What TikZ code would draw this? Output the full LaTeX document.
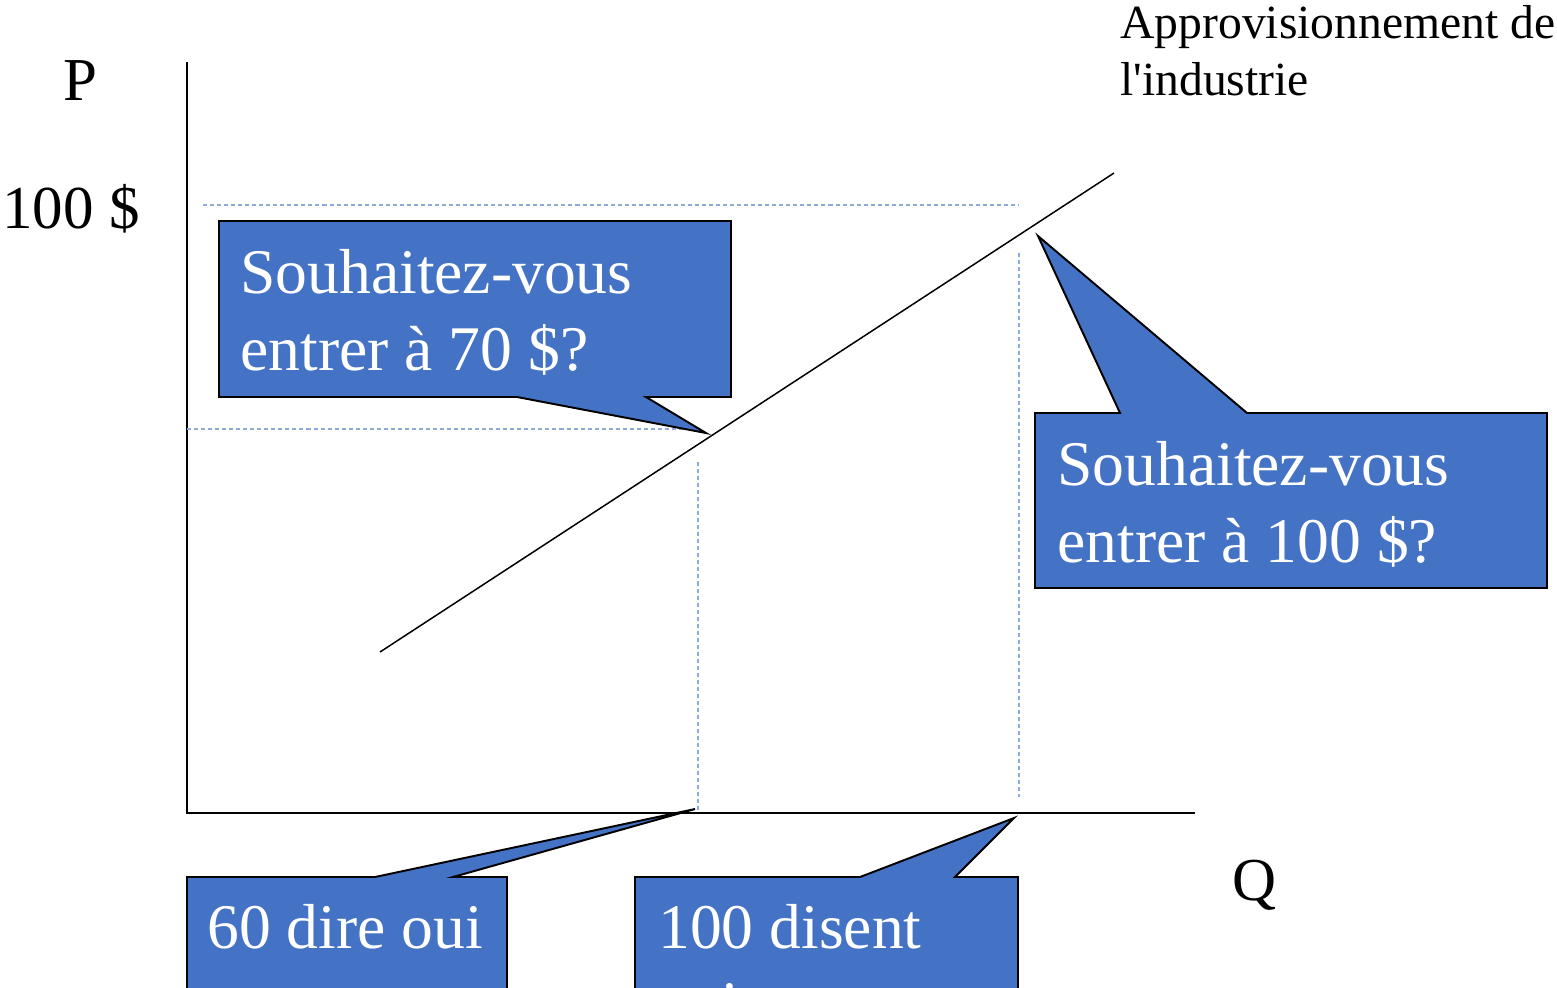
\documentclass[tikz,border=0pt]{standalone}
\usepackage{fontspec}
\setmainfont{Liberation Serif}
\definecolor{cfill}{HTML}{4472C4}
\definecolor{guide}{HTML}{8FAADC}
\tikzset{
  callout/.style={fill=cfill, draw=black, line width=1.1pt, line join=miter},
  guideline/.style={draw=guide, line width=0.8pt, dash pattern=on 2.3pt off 1.7pt},
  axis/.style={draw=black, line width=1.1pt},
  ctext/.style={text=white, inner sep=0pt, anchor=base west, font=\fontsize{36.2}{43.8}\selectfont},
  label/.style={text=black, inner sep=0pt, anchor=base west, font=\fontsize{34.7}{41}\selectfont},
  small/.style={text=black, inner sep=0pt, anchor=base west, font=\fontsize{27.1}{32}\selectfont}
}
\begin{document}
\begin{tikzpicture}[x=0.02cm,y=-0.02cm]
\useasboundingbox (0,0) rectangle (1557,987);
\clip (0,0) rectangle (1557,987);
% axes
\coordinate (O) at (187,813);
\coordinate (Ptop) at (187,62);
\coordinate (Qend) at (1195,813);
\draw[axis] (Ptop) -- (O) -- (Qend);
% supply line
\coordinate (s1) at (380,652);
\coordinate (s2) at (1114,173);
\draw[black, line width=0.85pt] (s1) -- (s2);
% guide lines
\draw[guideline] (203,205) -- (1019,205);
\draw[guideline] (187,429) -- (700,429);
\draw[guideline] (698,462) -- (698,812);
\draw[guideline] (1019,253) -- (1019,797);
% callout 1
\draw[callout] (219,221) -- (731,221) -- (731,397) -- (646,397) -- (706,433) -- (517,397) -- (219,397) -- cycle;
% callout 2
\draw[callout] (1035,413) -- (1120,413) -- (1038,236) -- (1247,413) -- (1547,413) -- (1547,588) -- (1035,588) -- cycle;
% callout 3
\draw[callout] (187,1000) -- (187,877) -- (375,877) -- (695,809) -- (453,877) -- (507,877) -- (507,1000);
% callout 4
\draw[callout] (635,1000) -- (635,877) -- (860,877) -- (1014,818) -- (955,877) -- (1018,877) -- (1018,1000);
% texts
\node[ctext] (c1a) at (240,293) {Souhaitez-vous};
\node[ctext] (c1b) at (240,370) {entrer à 70 \$?};
\node[ctext] (c2a) at (1057,485) {Souhaitez-vous};
\node[ctext] (c2b) at (1057,562) {entrer à 100 \$?};
\node[ctext] (c3a) at (207,948) {60 dire oui};
\node[ctext] (c4a) at (658,948) {100 disent};
\node[ctext] (c4b) at (658,1025) {oui};
\node[label] (lP) at (63,100) {P};
\node[label] (l100) at (2,228) {100 \$};
\node[label] (lQ) at (1232,900) {Q};
\node[small] (t1) at (1120,38) {Approvisionnement de};
\node[small] (t2) at (1120,95) {l\textquotesingle industrie};
\end{tikzpicture}
\end{document}
